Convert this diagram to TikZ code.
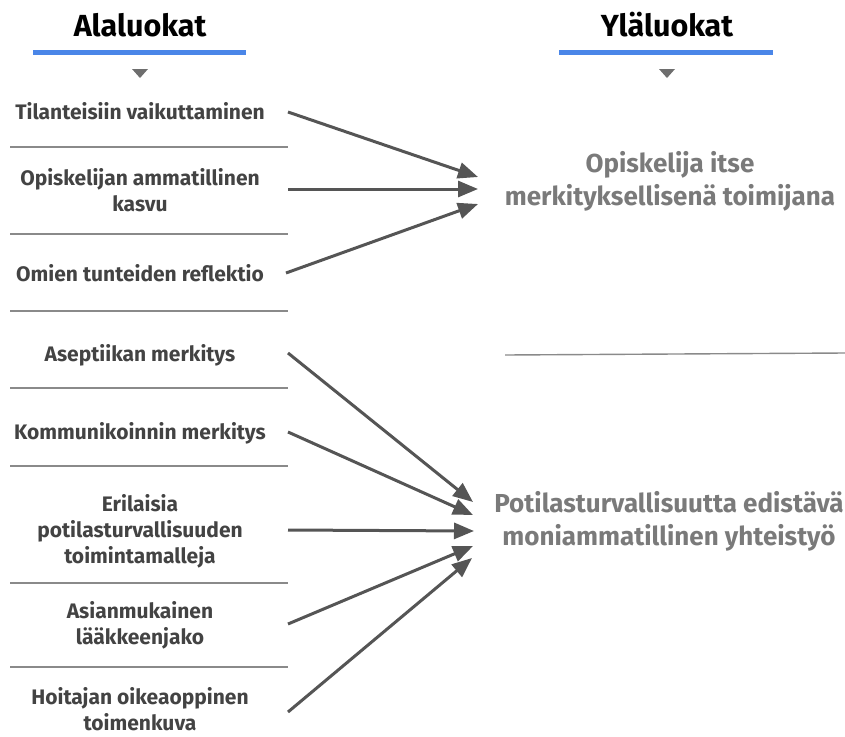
\documentclass[tikz,border=0pt]{standalone}
\usepackage{fontspec}
\setmainfont{Fira Sans}
\usetikzlibrary{arrows.meta}
\definecolor{blueline}{HTML}{4A86E8}
\definecolor{labeltext}{HTML}{434343}
\definecolor{targettext}{HTML}{7A7A7A}
\definecolor{arrowgrey}{HTML}{555555}
\definecolor{sepgrey}{HTML}{8A8A8A}
\definecolor{markgrey}{HTML}{6E6E6E}
\tikzset{
  title/.style={font=\fontsize{30.5}{34}\selectfont\bfseries, text=black, inner sep=0pt},
  lab/.style={font=\fontsize{21}{26}\selectfont\bfseries, text=labeltext, align=center, inner sep=0pt},
  tgt/.style={font=\fontsize{26}{33}\selectfont\bfseries, text=targettext, align=center, inner sep=0pt},
  uline/.style={draw=blueline, line width=5pt},
  sep/.style={draw=sepgrey, line width=1.4pt},
  conn/.style={draw=arrowgrey, line width=3pt, -{Triangle[length=20pt,width=16pt]}},
  downmark/.style={fill=markgrey, draw=none}
}
\begin{document}
\begin{tikzpicture}[x=1pt,y=-1pt]
\useasboundingbox (0,0) rectangle (845,736);
% titles
\node[title] (tl) at (140,25) {Alaluokat};
\node[title] (tr) at (667,25) {Yläluokat};
\draw[uline] (33,52) -- (246,52);
\draw[uline] (559,52) -- (773,52);
\path[downmark] (132,69) -- (148,69) -- (140,78) -- cycle;
\path[downmark] (659,69) -- (675,69) -- (667,78) -- cycle;
% left labels
\node[lab] (l1) at (140,111) {Tilanteisiin vaikuttaminen};
\node[lab] (l2) at (140,190) {Opiskelijan ammatillinen\\kasvu};
\node[lab] (l3) at (140,273) {Omien tunteiden reflektio};
\node[lab] (l4) at (140,355) {Aseptiikan merkitys};
\node[lab] (l5) at (140,433) {Kommunikoinnin merkitys};
\node[lab] (l6) at (140,531) {Erilaisia\\potilasturvallisuuden\\toimintamalleja};
\node[lab] (l7) at (140,625) {Asianmukainen\\lääkkeenjako};
\node[lab] (l8) at (140,709) {Hoitajan oikeaoppinen\\toimenkuva};
% separators
\foreach \y in {147,234,311,388,466,583,667}
  \draw[sep] (10,\y) -- (288,\y);
\draw[sep] (505,355) -- (845,353);
% targets
\node[tgt] (r1) at (670,181) {Opiskelija itse\\merkityksellisenä toimijana};
\node[tgt] (r2) at (669,521) {Potilasturvallisuutta edistävä\\moniammatillinen yhteistyö};
% connector end points
\coordinate (s1) at (288,112);
\coordinate (s2) at (288,189);
\coordinate (s3) at (286,273);
\coordinate (s4) at (288,353);
\coordinate (s5) at (288,432);
\coordinate (s6) at (288,530);
\coordinate (s7) at (288,624);
\coordinate (s8) at (288,712);
\coordinate (e1) at (478,177);
\coordinate (e2) at (478,189);
\coordinate (e3) at (478,204);
\coordinate (e4) at (473,502);
\coordinate (e5) at (473,515);
\coordinate (e6) at (474,531);
\coordinate (e7) at (473,546);
\coordinate (e8) at (472,558);
\draw[conn] (s1) -- (e1);
\draw[conn] (s2) -- (e2);
\draw[conn] (s3) -- (e3);
\draw[conn] (s4) -- (e4);
\draw[conn] (s5) -- (e5);
\draw[conn] (s6) -- (e6);
\draw[conn] (s7) -- (e7);
\draw[conn] (s8) -- (e8);
\end{tikzpicture}
\end{document}
